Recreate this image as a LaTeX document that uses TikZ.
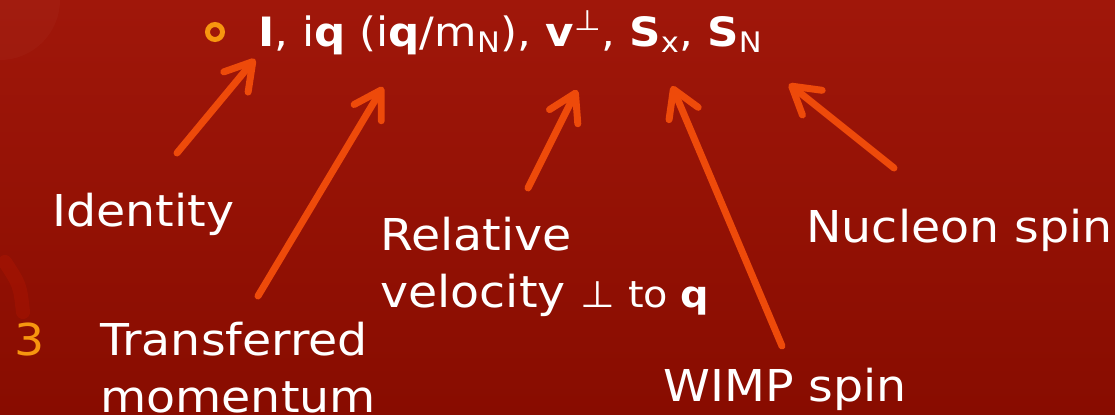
\documentclass[tikz,border=0pt]{standalone}
\usepackage{fontspec}
\setmainfont{DejaVu Sans}[FakeStretch=1.08]
\usepackage{xcolor}
\usetikzlibrary{arrows.meta}
\definecolor{bgtop}{HTML}{A0170A}
\definecolor{bgbot}{HTML}{880C00}
\definecolor{ptrcol}{HTML}{EE4A0A}
\definecolor{gold}{HTML}{F7960F}
\newcommand{\bigtxt}{\fontsize{25}{31}\selectfont}
\newcommand{\toptxt}{\fontsize{23}{28}\selectfont}

\begin{document}
\begin{tikzpicture}[x=0.02cm,y=-0.02cm,
  lbl/.style={text=white,inner sep=0pt,anchor=base west,align=left,font=\bigtxt},
  ptr/.style={draw=ptrcol,line width=7*0.567pt,line cap=round,
    -{Straight Barb[round,length=15pt,width=18pt]}}]
% background
\shade[top color=bgtop,bottom color=bgbot] (0,0) rectangle (1115,414);
\useasboundingbox (0,0) rectangle (1115,414);
\fill[white,opacity=0.025] (0,0) circle (60);
\draw[red!70!orange,opacity=0.12,line width=8pt,line cap=round] (5,262) .. controls (20,285) .. (23,312);
% top line
\draw[gold,line width=5*0.567pt] (215,32) circle (7.5);
\node[text=white,inner sep=0pt,anchor=base west,font=\toptxt] (terms) at (258,46)
  {\textbf{I}, i\textbf{q} (i\textbf{q}/m\textsubscript{N}), \textbf{v}\textsuperscript{⊥}, \textbf{S}\textsubscript{x}, \textbf{S}\textsubscript{N}};
% labels (multi-line ones sit on their last line)
\node[lbl] (ident) at (52,226) {Identity};
\node[lbl] (relvel) at (380,307) {Relative\\[1pt]velocity {\fontsize{21}{24}\selectfont ⊥ to \textbf{q}}};
\node[lbl] (nucspin) at (806,242) {Nucleon spin};
\node[lbl] (transf) at (100,412) {Transferred\\[1pt]momentum};
\node[lbl] (wimp) at (663,401) {WIMP spin};
\node[text=gold,inner sep=0pt,anchor=base west,font=\bigtxt] (num) at (14,355) {3};
% arrow ends
\coordinate (idS) at (177,153);  \coordinate (idT) at (255,59);
\coordinate (qS) at (258,296);   \coordinate (qT) at (383,87);
\coordinate (vS) at (528,188);   \coordinate (vT) at (577,90);
\coordinate (wS) at (782,346);   \coordinate (wT) at (672,86);
\coordinate (nS) at (894,168);   \coordinate (nT) at (789,84);
\draw[ptr] (idS) -- (idT);
\draw[ptr] (qS) -- (qT);
\draw[ptr] (vS) -- (vT);
\draw[ptr] (wS) -- (wT);
\draw[ptr] (nS) -- (nT);
\end{tikzpicture}
\end{document}
